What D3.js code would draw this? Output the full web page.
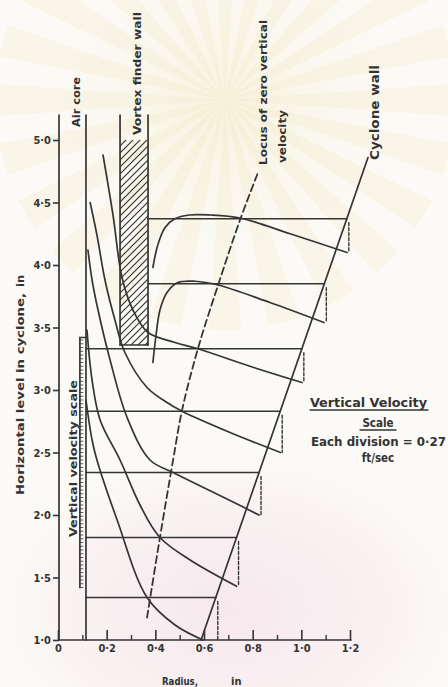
<!DOCTYPE html>
<html>
<head>
<meta charset="utf-8">
<script src="https://cdn.jsdelivr.net/npm/d3@7"></script>
<style>
  html, body { margin: 0; padding: 0; background: #fbfaf6; }
  svg { display: block; }
  text { font-family: "DejaVu Sans Condensed", "Liberation Sans Narrow", sans-serif; fill: #333; }
</style>
</head>
<body>
<svg id="chart" width="448" height="687"></svg>
<script>
// ---- data (radius in inches, level in inches) ----
const yTicks = [1.0, 1.5, 2.0, 2.5, 3.0, 3.5, 4.0, 4.5, 5.0]
const yTickLabels = ['1·0', '1·5', '2·0', '2·5', '3·0', '3·5', '4·0', '4·5', '5·0']
const xTicks = [0, 0.2, 0.4, 0.6, 0.8, 1.0, 1.2]
const xTickLabels = ['0', '0·2', '0·4', '0·6', '0·8', '1·0', '1·2']
const xMinorTicks = [0.1, 0.3, 0.5, 0.7, 0.9, 1.1]

const airCore = 0.115
const finderWall = [0.255, 0.37]
const finderLevels = [3.36, 5.0]     // hatched part of the vortex finder
const wallTop = 5.2                   // top of the drawn vertical lines
const cycloneWall = [[0.588, 1.0], [1.274, 4.86]]

const baseLevels = [4.37, 3.85, 3.33, 2.83, 2.34, 1.82, 1.34]
const baseStart = [0.37, 0.37, 0.115, 0.115, 0.115, 0.115, 0.115]

const profile1 = [[0.39, 3.98], [0.41, 4.16], [0.44, 4.30], [0.48, 4.37], [0.54, 4.40], [0.625, 4.40], [0.748, 4.376], [0.954, 4.25], [1.188, 4.10]]
const profile2 = [[0.39, 3.22], [0.403, 3.44], [0.419, 3.64], [0.448, 3.78], [0.493, 3.86], [0.563, 3.87], [0.658, 3.84], [0.871, 3.70], [1.093, 3.54]]
const profile3 = [[0.185, 4.88], [0.226, 4.40], [0.263, 3.90], [0.308, 3.64], [0.370, 3.46], [0.481, 3.38], [0.575, 3.33], [0.789, 3.19], [1.003, 3.06]]
const profile4 = [[0.132, 4.50], [0.160, 4.24], [0.193, 3.88], [0.234, 3.56], [0.275, 3.30], [0.366, 3.02], [0.440, 2.91], [0.510, 2.83], [0.707, 2.66], [0.914, 2.50]]
const profile5 = [[0.123, 4.12], [0.140, 3.88], [0.160, 3.68], [0.214, 3.24], [0.284, 2.78], [0.378, 2.44], [0.473, 2.34], [0.682, 2.14], [0.826, 2.00]]
const profile6 = [[0.119, 3.48], [0.140, 3.08], [0.173, 2.76], [0.255, 2.44], [0.337, 2.08], [0.419, 1.82], [0.543, 1.64], [0.734, 1.43]]
const profile7 = [[0.115, 2.92], [0.140, 2.60], [0.160, 2.44], [0.243, 1.96], [0.366, 1.34], [0.481, 1.12], [0.596, 1.0]]
const profiles = [profile1, profile2, profile3, profile4, profile5, profile6, profile7]

const locus = [[0.366, 1.18], [0.419, 1.82], [0.473, 2.44], [0.510, 2.84], [0.575, 3.33], [0.658, 3.84], [0.748, 4.36], [0.822, 4.74]]

const scaleBar = { r0: 0.09, r1: 0.115, l0: 1.42, l1: 3.42 }

// ---- setup ----
const ink = '#353535'
const svg = d3.select('#chart')

const x = d3.scaleLinear().domain([0, 1.2]).range([58, 350])
const y = d3.scaleLinear().domain([1, 5]).range([640, 140])

function wallAt(level) {
  let [a, b] = cycloneWall
  return a[0] + (level - a[1]) / (b[1] - a[1]) * (b[0] - a[0])
}

// faint scan watermark
let defs = svg.append('defs')
let glow = defs.append('radialGradient').attr('id', 'glow')
glow.append('stop').attr('offset', '0%').attr('stop-color', '#f7f1da').attr('stop-opacity', 0.9)
glow.append('stop').attr('offset', '100%').attr('stop-color', '#fbfaf6').attr('stop-opacity', 0)
let pink = defs.append('radialGradient').attr('id', 'pink')
pink.append('stop').attr('offset', '0%').attr('stop-color', '#f7e8ed').attr('stop-opacity', 1)
pink.append('stop').attr('offset', '70%').attr('stop-color', '#f9eef1').attr('stop-opacity', 0.7)
pink.append('stop').attr('offset', '100%').attr('stop-color', '#fbfaf6').attr('stop-opacity', 0)

let hatch = defs.append('pattern')
  .attr('id', 'hatch')
  .attr('patternUnits', 'userSpaceOnUse')
  .attr('width', 7).attr('height', 7)
hatch.append('path')
  .attr('d', 'M0,7 L7,0 M-2,2 L2,-2 M5,9 L9,5')
  .attr('stroke', ink).attr('stroke-width', 1.2)

svg.append('ellipse').attr('cx', 225).attr('cy', 110).attr('rx', 230).attr('ry', 190).attr('fill', 'url(#glow)')
let rays = svg.append('g').attr('opacity', 0.16)
d3.range(0, 360, 15).forEach(a => {
  let t0 = (a - 4) * Math.PI / 180, t1 = (a + 4) * Math.PI / 180
  rays.append('path')
    .attr('d', `M225,100 L${225 + 230 * Math.cos(t0)},${100 + 230 * Math.sin(t0)} L${225 + 230 * Math.cos(t1)},${100 + 230 * Math.sin(t1)}Z`)
    .attr('fill', '#f0e0a8')
})
svg.append('ellipse').attr('cx', 230).attr('cy', 610).attr('rx', 240).attr('ry', 160).attr('fill', 'url(#pink)')

let plot = svg.append('g')
  .attr('fill', 'none')
  .attr('stroke', ink)
  .attr('stroke-width', 1.7)
  .attr('stroke-linecap', 'round')

// ---- axes ----
let yAxis = d3.axisLeft(y)
  .tickValues(yTicks)
  .tickFormat((d, i) => yTickLabels[i])
  .tickSize(6).tickSizeOuter(0).tickPadding(2)

let yg = svg.append('g').attr('transform', `translate(${x(0) + 1},0)`).call(yAxis)
yg.select('.domain').remove()
yg.selectAll('line').attr('stroke', ink).attr('stroke-width', 1.6)
yg.selectAll('text').attr('font-size', 11).attr('font-weight', 'bold').attr('fill', '#333')
  .style('font-family', '"DejaVu Sans Condensed", sans-serif')

let xAxis = d3.axisBottom(x)
  .tickValues(xTicks)
  .tickFormat((d, i) => xTickLabels[i])
  .tickSize(-10).tickSizeOuter(0).tickPadding(4)

let xg = svg.append('g').attr('transform', `translate(0,${y(1)})`).call(xAxis)
xg.select('.domain').remove()
xg.selectAll('line').attr('stroke', ink).attr('stroke-width', 1.6)
xg.selectAll('text').attr('font-size', 11).attr('font-weight', 'bold').attr('fill', '#333')
  .style('font-family', '"DejaVu Sans Condensed", sans-serif')

let xMinor = d3.axisBottom(x).tickValues(xMinorTicks).tickFormat('').tickSize(-5).tickSizeOuter(0)
let xm = svg.append('g').attr('transform', `translate(0,${y(1)})`).call(xMinor)
xm.select('.domain').remove()
xm.selectAll('line').attr('stroke', ink).attr('stroke-width', 1.4)

plot.append('line')
  .attr('x1', x(0) + 1).attr('x2', x(0) + 1)
  .attr('y1', y(1)).attr('y2', y(wallTop))
plot.append('line')
  .attr('x1', x(0) + 1).attr('x2', x(1.2) + 1)
  .attr('y1', y(1)).attr('y2', y(1))

// ---- walls ----
plot.append('line')
  .attr('x1', x(airCore)).attr('x2', x(airCore))
  .attr('y1', y(1)).attr('y2', y(wallTop))

finderWall.forEach(r => {
  plot.append('line')
    .attr('x1', x(r)).attr('x2', x(r))
    .attr('y1', y(finderLevels[0])).attr('y2', y(wallTop))
})
plot.append('rect')
  .attr('x', x(finderWall[0])).attr('width', x(finderWall[1]) - x(finderWall[0]))
  .attr('y', y(finderLevels[1])).attr('height', y(finderLevels[0]) - y(finderLevels[1]))
  .attr('fill', 'url(#hatch)').attr('stroke', 'none')
plot.append('line')
  .attr('x1', x(finderWall[0])).attr('x2', x(finderWall[1]))
  .attr('y1', y(finderLevels[0])).attr('y2', y(finderLevels[0]))

plot.append('line')
  .attr('x1', x(cycloneWall[0][0])).attr('y1', y(cycloneWall[0][1]))
  .attr('x2', x(cycloneWall[1][0])).attr('y2', y(cycloneWall[1][1]))

// vertical velocity scale bar
plot.append('line')
  .attr('x1', x(scaleBar.r0)).attr('x2', x(scaleBar.r0))
  .attr('y1', y(scaleBar.l0)).attr('y2', y(scaleBar.l1))
plot.append('line')
  .attr('x1', x(scaleBar.r0)).attr('x2', x(scaleBar.r1))
  .attr('y1', y(scaleBar.l1)).attr('y2', y(scaleBar.l1))
plot.append('g').attr('stroke-width', 0.8)
  .selectAll('line')
  .data(d3.range(scaleBar.l0, scaleBar.l1, 0.03))
  .join('line')
  .attr('x1', x(scaleBar.r0)).attr('x2', x(scaleBar.r0) + 3)
  .attr('y1', d => y(d)).attr('y2', d => y(d))

// ---- baselines ----
plot.selectAll('.base')
  .data(baseLevels)
  .join('line')
  .attr('class', 'base')
  .attr('x1', (d, i) => x(baseStart[i]))
  .attr('x2', d => x(wallAt(d)))
  .attr('y1', d => y(d)).attr('y2', d => y(d))

// ---- velocity profiles ----
let curve = d3.line()
  .x(d => x(d[0])).y(d => y(d[1]))
  .curve(d3.curveCatmullRom.alpha(0.5))

plot.selectAll('.profile')
  .data(profiles)
  .join('path')
  .attr('class', 'profile')
  .attr('d', curve)

// wall velocity markers
plot.selectAll('.wallmark')
  .data(baseLevels)
  .join('line')
  .attr('class', 'wallmark')
  .attr('stroke-width', 1.4)
  .attr('stroke-dasharray', '3,2')
  .attr('x1', d => x(wallAt(d)) + 2).attr('x2', d => x(wallAt(d)) + 2)
  .attr('y1', d => y(d) + 4)
  .attr('y2', (d, i) => y(profiles[i][profiles[i].length - 1][1]))

// locus of zero vertical velocity
plot.append('path')
  .datum(locus)
  .attr('d', curve)
  .attr('stroke-width', 1.8)
  .attr('stroke-dasharray', '7,4')

// ---- labels ----
function vtext(tx, ty, str, size, len) {
  let t = svg.append('text')
    .attr('transform', `translate(${tx},${ty}) rotate(-90)`)
    .attr('font-size', size)
    .attr('font-weight', 'bold')
    .text(str)
  if (len) t.attr('textLength', len).attr('lengthAdjust', 'spacingAndGlyphs')
  return t
}

vtext(80, 127, 'Air core', 11, 50)
vtext(141, 135, 'Vortex  finder  wall', 11, 123)
vtext(267, 165, 'Locus of  zero  vertical', 11, 145)
vtext(286, 163, 'velocity', 11, 53)
vtext(379, 160, 'Cyclone   wall', 12, 95)
vtext(77, 537, 'Vertical  velocity  scale', 11, 157)
vtext(24, 495, 'Horizontal level in cyclone,', 11, 202)
vtext(24, 287, 'in', 11, 12)

svg.append('text').attr('x', 162).attr('y', 685).attr('font-size', 11).attr('font-weight', 'bold')
  .attr('textLength', 36).attr('lengthAdjust', 'spacingAndGlyphs').text('Radius,')
svg.append('text').attr('x', 231).attr('y', 685).attr('font-size', 11).attr('font-weight', 'bold').text('in')

let note = svg.append('g').attr('font-size', 11.5).attr('font-weight', 'bold')
note.append('text').attr('x', 310).attr('y', 407).attr('textLength', 117).attr('lengthAdjust', 'spacingAndGlyphs').text('Vertical  Velocity')
note.append('text').attr('x', 378).attr('y', 427).attr('text-anchor', 'middle').text('Scale')
note.append('text').attr('x', 311).attr('y', 446).attr('textLength', 135).attr('lengthAdjust', 'spacingAndGlyphs').text('Each division = 0·27')
note.append('text').attr('x', 378).attr('y', 462).attr('text-anchor', 'middle').text('ft/sec')
plot.append('line').attr('x1', 310).attr('x2', 428).attr('y1', 410).attr('y2', 410).attr('stroke-width', 1.3)
plot.append('line').attr('x1', 360).attr('x2', 396).attr('y1', 430).attr('y2', 430).attr('stroke-width', 1.3)
</script>
</body>
</html>
